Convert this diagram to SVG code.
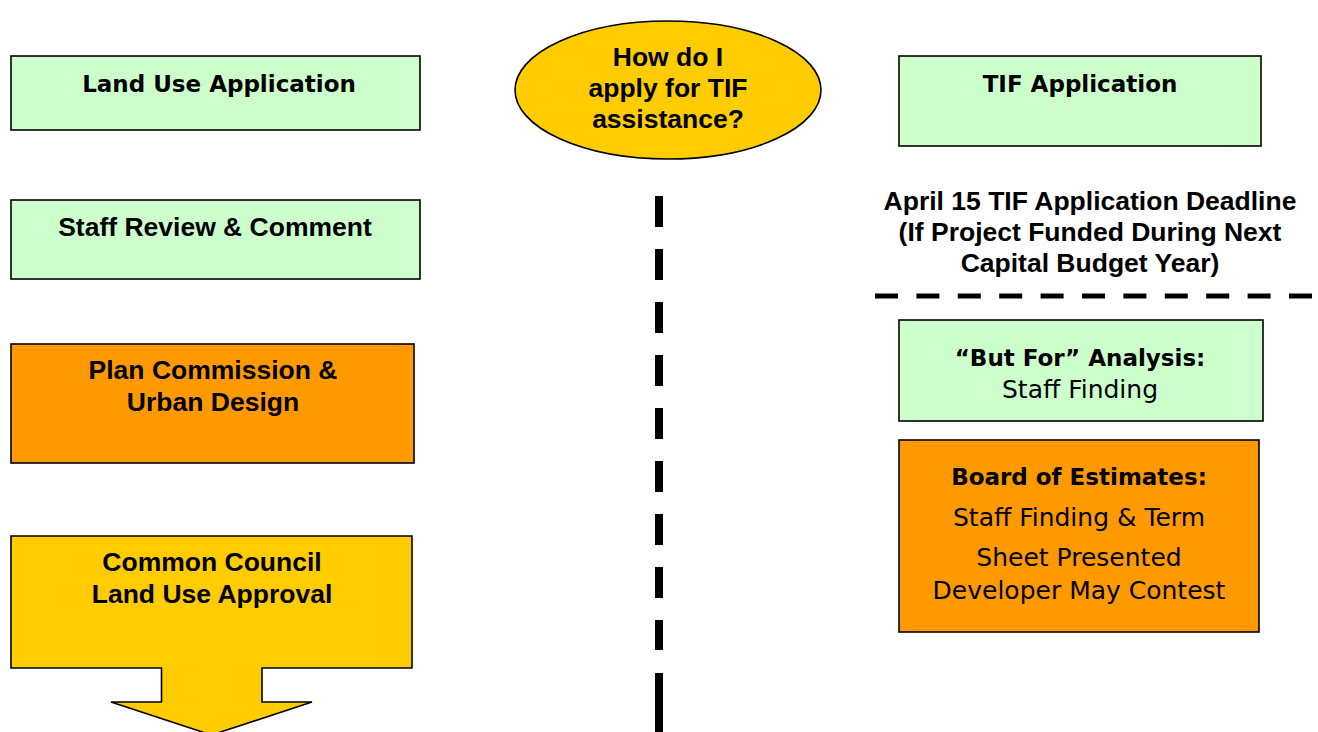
<svg xmlns="http://www.w3.org/2000/svg" width="1318" height="732" viewBox="0 0 1318 732">
<style>
.box{stroke:#000;stroke-width:1.6}
.green{fill:#CCFFCC}
.orange{fill:#FF9900}
.yellow{fill:#FFCC00}
.dash{stroke:#000;fill:none}
.ar{font-family:"Liberation Sans",Arial,sans-serif;font-weight:bold;font-size:26.5px;fill:#000;text-anchor:middle}
.lb{font-family:"DejaVu Sans",Verdana,sans-serif;font-weight:bold;font-size:23px;fill:#000;text-anchor:middle}
.lr{font-family:"DejaVu Sans",Verdana,sans-serif;font-size:25px;fill:#000;text-anchor:middle}
</style>
<rect width="1318" height="732" fill="#fff"/>
<g id="connectors">
<line class="dash" x1="659" y1="196" x2="659" y2="650" stroke-width="8" stroke-dasharray="31 22"/>
<line class="dash" x1="659" y1="673" x2="659" y2="740" stroke-width="8"/>
<line class="dash" x1="875" y1="296" x2="1312" y2="296" stroke-width="5" stroke-dasharray="23 18.4"/>
</g>
<g id="land-use-application">
<rect class="box green" x="11" y="56" width="409" height="74"/>
<text class="lb" x="219" y="92">Land Use Application</text>
</g>
<g id="staff-review">
<rect class="box green" x="11" y="200" width="409" height="79"/>
<text class="ar" x="215" y="236">Staff Review &amp; Comment</text>
</g>
<g id="plan-commission">
<rect class="box orange" x="11" y="344" width="403" height="119"/>
<text class="ar" x="213" y="379">Plan Commission &amp;</text>
<text class="ar" x="213" y="411">Urban Design</text>
</g>
<g id="common-council">
<path class="box yellow" d="M11,536 H412 V668 H262 V702 H312 L211.5,735 L111,702 H161.5 V668 H11 Z"/>
<text class="ar" x="212" y="571">Common Council</text>
<text class="ar" x="212" y="603">Land Use Approval</text>
</g>
<g id="question">
<ellipse class="box yellow" cx="668" cy="90" rx="153" ry="69"/>
<text class="ar" x="668" y="66">How do I</text>
<text class="ar" x="668" y="97">apply for TIF</text>
<text class="ar" x="668" y="128">assistance?</text>
</g>
<g id="tif-application">
<rect class="box green" x="899" y="56" width="362" height="90"/>
<text class="lb" x="1080" y="92">TIF Application</text>
</g>
<g id="deadline">
<text class="ar" x="1090" y="210">April 15 TIF Application Deadline</text>
<text class="ar" x="1090" y="241">(If Project Funded During Next</text>
<text class="ar" x="1090" y="272">Capital Budget Year)</text>
</g>
<g id="but-for">
<rect class="box green" x="899" y="320" width="364" height="101"/>
<text class="lb" x="1080" y="366">“But For” Analysis:</text>
<text class="lr" x="1080" y="398">Staff Finding</text>
</g>
<g id="board-of-estimates">
<rect class="box orange" x="899" y="440" width="360" height="192"/>
<text class="lb" x="1079" y="485">Board of Estimates:</text>
<text class="lr" x="1079" y="526">Staff Finding &amp; Term</text>
<text class="lr" x="1079" y="566">Sheet Presented</text>
<text class="lr" x="1079" y="599">Developer May Contest</text>
</g>
</svg>
